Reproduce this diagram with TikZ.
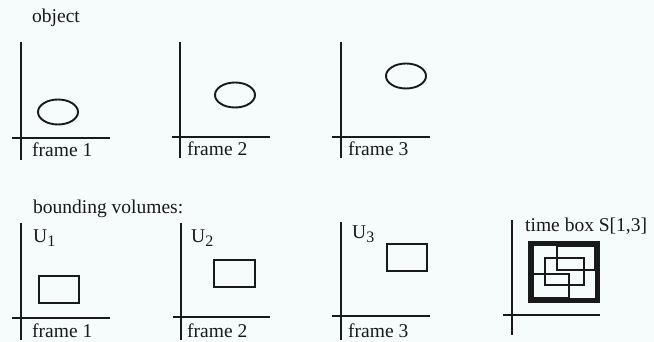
\documentclass[tikz,border=0pt]{standalone}
\usepackage{fontspec}
\setmainfont{Liberation Serif}
\definecolor{paper}{RGB}{246,251,251}
\definecolor{ink}{RGB}{25,25,25}
\newcommand{\sublow}[1]{\raisebox{-0.35ex}{\fontsize{16}{16}\selectfont #1}}

\begin{document}
\begin{tikzpicture}[x=1pt, y=-1pt,
    axis/.style={draw=ink, line width=1.9pt},
    blob/.style={draw=ink, line width=1.9pt},
    bvol/.style={draw=ink, line width=1.8pt},
    tbox/.style={draw=ink, line width=5.5pt},
    lbl/.style={anchor=base west, inner sep=0pt, text=ink, font=\fontsize{19.5}{21}\selectfont}]
    \useasboundingbox[fill=paper] (0,0) rectangle (654,342);

    % Object row
    \node[lbl] (object) at (32,23) {object};

    \draw[axis] (21,42) -- (21,160);
    \draw[axis] (12,138) -- (110,138);
    \draw[blob] (58,112) ellipse (20 and 12.5);
    \node[lbl] (frameA) at (32,157) {frame 1};

    \draw[axis] (180,42) -- (180,158);
    \draw[axis] (172,137) -- (270,137);
    \draw[blob] (235,95) ellipse (20 and 12.5);
    \node[lbl] (frameB) at (187,156) {frame 2};

    \draw[axis] (341,42) -- (341,158);
    \draw[axis] (332,137) -- (430,137);
    \draw[blob] (406,76) ellipse (20 and 12.5);
    \node[lbl] (frameC) at (348,156) {frame 3};

    % Bounding volume row
    \node[lbl] (bvols) at (33,214) {bounding volumes:};

    \draw[axis] (21,223) -- (21,340);
    \draw[axis] (12,318) -- (110,318);
    \draw[bvol] (39,276) rectangle (79,303);
    \node[lbl] (uA) at (33,243) {U\sublow{1}};
    \node[lbl] (frameD) at (32,337) {frame 1};

    \draw[axis] (181,223) -- (181,340);
    \draw[axis] (173,317) -- (270,317);
    \draw[bvol] (214,260) rectangle (255,287);
    \node[lbl] (uB) at (191,243) {U\sublow{2}};
    \node[lbl] (frameE) at (187,337) {frame 2};

    \draw[axis] (341,222) -- (341,340);
    \draw[axis] (332,316) -- (430,316);
    \draw[bvol] (387,244) rectangle (427,271);
    \node[lbl] (uC) at (352,239) {U\sublow{3}};
    \node[lbl] (frameF) at (348,337) {frame 3};

    % Time box
    \draw[axis] (512,220) -- (512,335);
    \draw[axis] (503,315) -- (600,315);
    \node[lbl] (timebox) at (525,232) {time box S[1,3]};
    \draw[tbox] (530.75,243.75) rectangle (597.25,300.25);
    \draw[bvol] (557,246.5) rectangle (594.5,270);
    \draw[bvol] (545,258) rectangle (584,285);
    \draw[bvol] (533.5,274) rectangle (569,297.5);
\end{tikzpicture}
\end{document}
